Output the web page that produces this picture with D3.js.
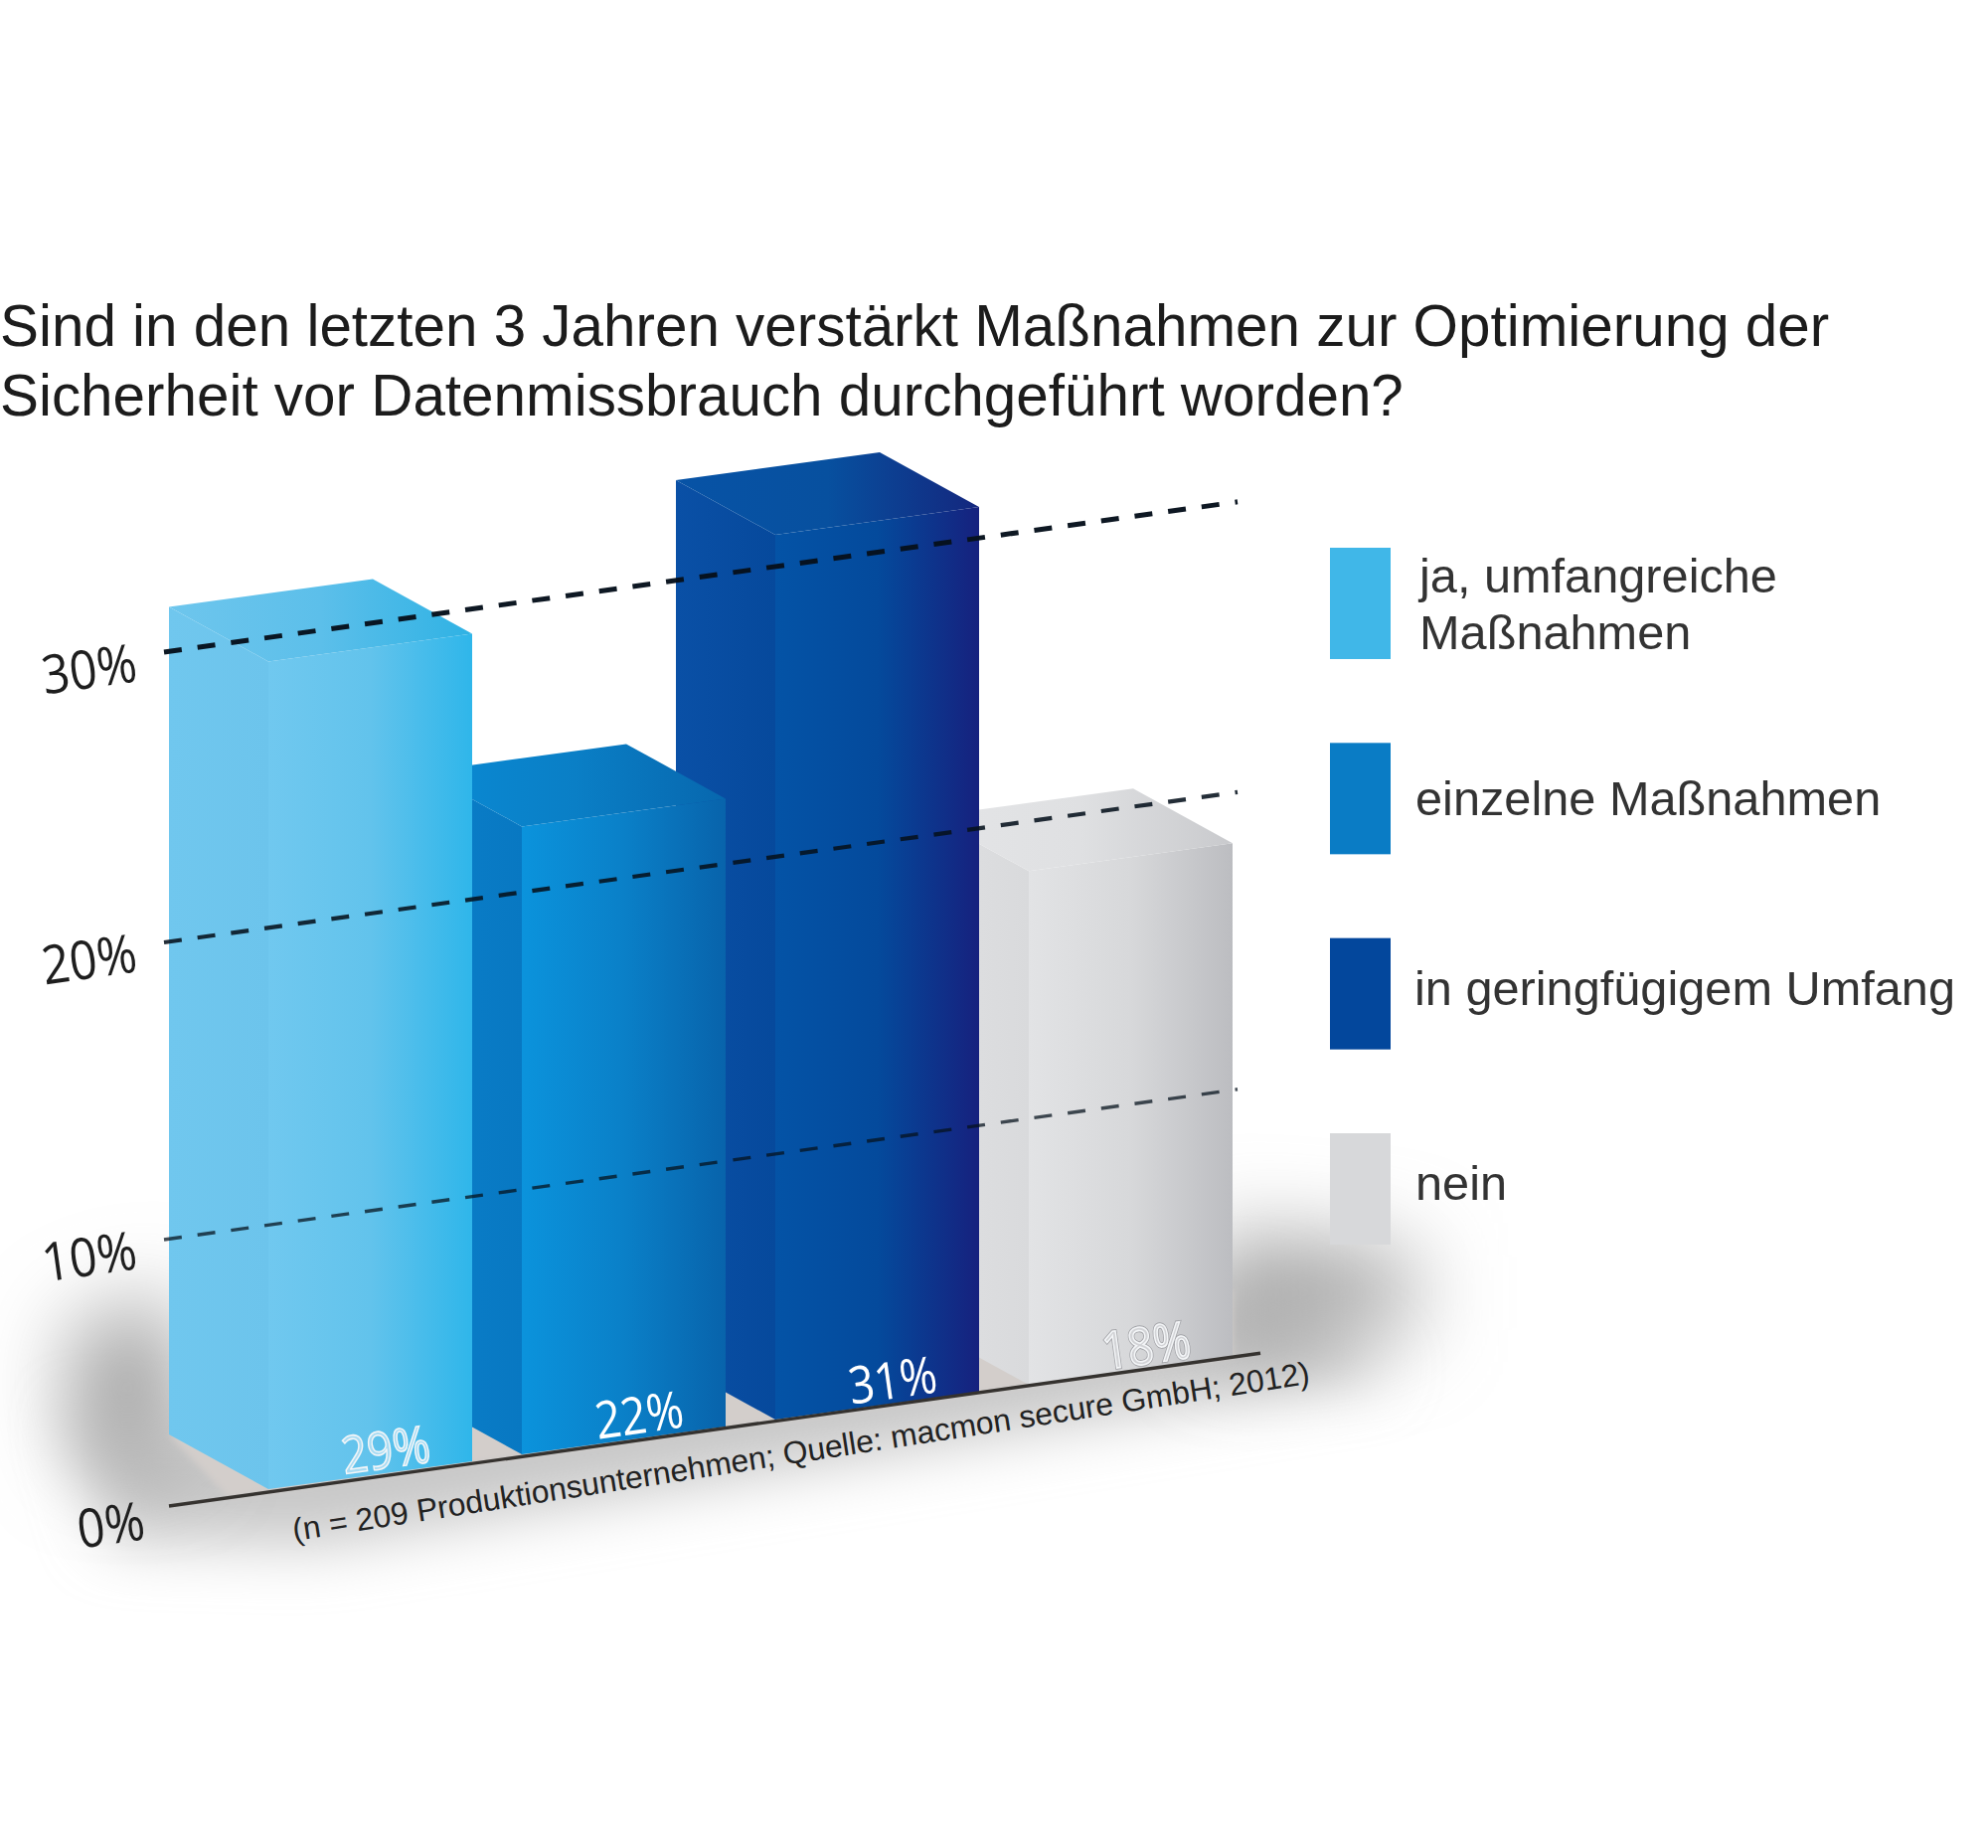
<!DOCTYPE html>
<html lang="de">
<head>
<meta charset="utf-8">
<title>Maßnahmen gegen Datenmissbrauch</title>
<script src="https://cdn.jsdelivr.net/npm/d3@7/dist/d3.min.js"></script>
<style>
  html, body { margin: 0; padding: 0; background: #fff; }
  svg { display: block; }
  text { font-family: "Liberation Sans", Arial, sans-serif; }
  .tick-label, .value-label { font-family: "Open Sans", "Noto Sans", sans-serif; }
</style>
</head>
<body>
<svg id="chart" width="2000" height="1859"></svg>
<script>
// Survey answers, in percent
const categories = ["ja, umfangreiche Maßnahmen", "einzelne Maßnahmen", "in geringfügigem Umfang", "nein"];
const values = [29, 22, 31, 18];
const gridTicks = [0, 10, 20, 30];
const titleLines = [
  "Sind in den letzten 3 Jahren verstärkt Maßnahmen zur Optimierung der",
  "Sicherheit vor Datenmissbrauch durchgeführt worden?"
];
const legendLines = [["ja, umfangreiche", "Maßnahmen"], ["einzelne Maßnahmen"], ["in geringfügigem Umfang"], ["nein"]];
const sourceNote = "(n = 209 Produktionsunternehmen; Quelle: macmon secure GmbH; 2012)";

// Face colours for each box: side, front, top, legend swatch, value label
const sideColors  = [["#70c7ee", "#6cc4ec"], ["#0a7fca", "#0878c2"], ["#0a50a6", "#06499c"], ["#dfe0e2", "#d9dadc"]];
const frontColors = [["#70c8ef", "#62c3ec", "#2fb6ea"], ["#0b93dc", "#0a80c8", "#0863ab"], ["#0453a6", "#044a9c", "#16217e"], ["#e2e3e5", "#d7d8da", "#bcbdc1"]];
const topColors   = [["#6ec6ed", "#5cbfea", "#2fb2e4"], ["#0a8ad4", "#0a7fc6", "#0767ae"], ["#0753a6", "#07509f", "#14277e"], ["#e4e5e7", "#dfe0e2", "#c9cacd"]];
const swatchColors = ["#40b7e8", "#0a7cc5", "#03479c", "#d7d8da"];
const labelFills = ["#a9dcf3", "#ffffff", "#ffffff", "#d2d3d6"];

const svg = d3.select("#chart");
const defs = svg.append("defs");

// Oblique projection of the boxes
const slope = 0.14;
const sideRun = { dx: 100, dy: 55 };
const frontRun = { dx: 205, dy: 28 };

const xBand = d3.scaleBand().domain(categories).range([170, 1190]).padding(0);
const height = d3.scaleLinear().domain([0, 31]).range([0, 890]);
const frontBase = d3.scaleLinear().domain([270, 1035]).range([1498, 1393]);
const gridY = d3.scaleLinear().domain(gridTicks).range([1515, 1247, 948, 656]);

function gradient(id, stops) {
  const g = defs.append("linearGradient").attr("id", id).attr("x1", 0).attr("x2", 1).attr("y1", 0).attr("y2", 0);
  stops.forEach((c, i) => g.append("stop").attr("offset", i / (stops.length - 1)).attr("stop-color", c));
}
categories.forEach((_, i) => {
  gradient("side" + i, sideColors[i]);
  gradient("front" + i, frontColors[i]);
  gradient("top" + i, topColors[i]);
});

function blur(id, dev) {
  defs.append("filter").attr("id", id)
    .attr("filterUnits", "userSpaceOnUse")
    .attr("x", 0).attr("y", 0).attr("width", 2000).attr("height", 1859)
    .append("feGaussianBlur").attr("stdDeviation", dev);
}
blur("wide", 30);
blur("blob", 44);
blur("edge", 3);

// Ground shadow and floor under the boxes
const path = d3.line();
const ground = svg.append("g");
const floorLeft = xBand.range()[0];
const lineEnd = 1268;
const baseAt = x => gridY(0) - slope * (x - floorLeft);

ground.append("path")
  .attr("d", path([[70, 1420], [170, 1440], [1270, 1290], [1400, 1380], [320, 1555], [110, 1550]]))
  .attr("fill", "#c8c8c8").attr("filter", "url(#wide)");
ground.append("path")
  .attr("d", path([[70, 1340], [170, 1300], [190, 1470], [80, 1470]]))
  .attr("fill", "#9e9e9e").attr("filter", "url(#blob)");
ground.append("path")
  .attr("d", path([[1220, 1240], [1420, 1260], [1420, 1340], [1220, 1360]]))
  .attr("fill", "#a4a4a4").attr("filter", "url(#blob)");
ground.append("path")
  .attr("d", path([[floorLeft, 1443], [1240, 1297], [1240, baseAt(1240)], [floorLeft + 60, baseAt(floorLeft + 60)]]))
  .attr("fill", "#d3cecb").attr("filter", "url(#edge)");

// Boxes, back to front: each one overlaps its right-hand neighbour
const boxes = svg.append("g");
d3.range(categories.length).reverse().forEach(i => {
  const xFront = xBand(categories[i]) + sideRun.dx;
  const yBase = frontBase(xFront);
  const yTop = yBase - height(values[i]);
  const g = boxes.append("g");
  const xl = xFront - sideRun.dx, xr = xFront + frontRun.dx;

  g.append("path").attr("fill", `url(#side${i})`).attr("d", path([
    [xl, yTop - sideRun.dy], [xFront, yTop], [xFront, yBase], [xl, yBase - sideRun.dy]
  ]) + "Z");
  g.append("path").attr("fill", `url(#front${i})`).attr("d", path([
    [xFront, yTop], [xr, yTop - frontRun.dy], [xr, yBase - frontRun.dy], [xFront, yBase]
  ]) + "Z");
  g.append("path").attr("fill", `url(#top${i})`).attr("d", path([
    [xl, yTop - sideRun.dy], [xl + frontRun.dx, yTop - sideRun.dy - frontRun.dy],
    [xr, yTop - frontRun.dy], [xFront, yTop]
  ]) + "Z");
});

// Value labels sit at the foot of each front face
const valueGroup = svg.append("g");
categories.forEach((c, i) => {
  const xFront = xBand(c) + sideRun.dx;
  const cx = xFront + 118, cy = frontBase(xFront) - 40;
  const place = `translate(${cx},${cy}) rotate(-8) scale(0.87,1)`;
  const label = () => valueGroup.append("text")
    .attr("class", "value-label")
    .attr("text-anchor", "middle").attr("dy", "0.36em")
    .attr("font-size", 52)
    .attr("transform", place)
    .text(values[i] + "%");
  if (i === 3) label().attr("fill", "none").attr("stroke", "#a3a4a8").attr("stroke-width", 3.4);
  const t = label().attr("fill", labelFills[i]);
  if (i === 0 || i === 3) t.attr("stroke", "#f4f6f8").attr("stroke-width", 1.6);
});

// Dashed grid lines and the solid zero line
const gridX = [165, 1245];
const gridOpacity = { 10: 0.74, 20: 0.88, 30: 0.97 };
const gridWidth = { 10: 3.4, 20: 4.2, 30: 5 };
const gridGroup = svg.append("g");
gridTicks.filter(v => v > 0).forEach(v => {
  const y0 = gridY(v);
  gridGroup.append("path")
    .attr("d", path(gridX.map(x => [x, y0 - slope * (x - gridX[0])])))
    .attr("fill", "none").attr("stroke", "#06111c")
    .attr("stroke-width", gridWidth[v]).attr("stroke-opacity", gridOpacity[v])
    .attr("stroke-dasharray", "18 16");
});
gridGroup.append("path")
  .attr("d", path([[floorLeft, baseAt(floorLeft)], [lineEnd, baseAt(lineEnd)]]))
  .attr("fill", "none").attr("stroke", "#35322f").attr("stroke-width", 3.4);

// Axis labels
svg.append("g").selectAll("text").data(gridTicks).join("text")
  .attr("class", "tick-label")
  .attr("text-anchor", "end").attr("dy", "0.36em")
  .attr("font-size", 54).attr("fill", "#1e1e1e")
  .attr("transform", v => `translate(${v === 0 ? 145 : 137},${gridY(v) + (v === 0 ? 14 : 10)}) rotate(-8) scale(0.9,1)`)
  .text(v => v + "%");

// Question above the chart
svg.append("g").selectAll("text").data(titleLines).join("text")
  .attr("x", 0).attr("y", (d, i) => 348 + i * 70)
  .attr("font-size", 58.4).attr("fill", "#1c1c1c")
  .text(d => d);

// Source note running along the floor
svg.append("text")
  .attr("transform", "translate(296,1550) rotate(-8.8)")
  .attr("font-size", 31.8).attr("fill", "#222")
  .text(sourceNote);

// Legend
const legendY = d3.scaleLinear().domain([0, 3]).range([551, 1140]);
const legendTextX = [1428, 1424, 1423, 1424];
const legendBaseline = [[596, 653], [820], [1011], [1207]];
const legend = svg.append("g");
categories.forEach((c, i) => {
  legend.append("rect")
    .attr("x", 1338).attr("y", legendY(i)).attr("width", 61).attr("height", 112)
    .attr("fill", swatchColors[i]);
  legendLines[i].forEach((line, j) => {
    legend.append("text")
      .attr("x", legendTextX[i]).attr("y", legendBaseline[i][j])
      .attr("font-size", 48.7).attr("fill", "#333")
      .text(line);
  });
});
</script>
</body>
</html>
